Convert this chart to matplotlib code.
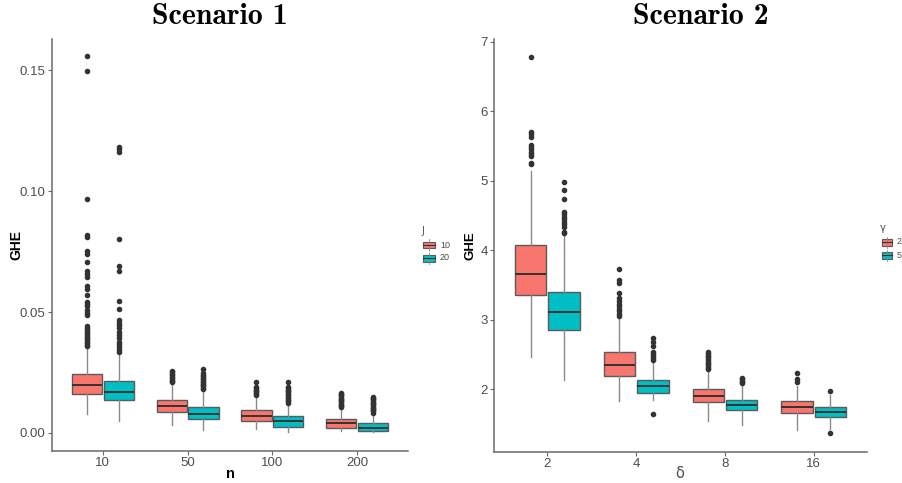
import matplotlib
matplotlib.use("Agg")
import matplotlib.pyplot as plt
from matplotlib.patches import Rectangle
from matplotlib.lines import Line2D

# ---- Scenario 1 : GHE by n, split by J ----
s1_cats = ['10', '50', '100', '200']
s1_levels = ['10', '20']

s1_q1 = {'10': [0.0162, 0.0086, 0.0047, 0.0022], '20': [0.0135, 0.0057, 0.0026, 0.0008]}
s1_med = {'10': [0.0198, 0.0111, 0.0069, 0.0039], '20': [0.0169, 0.0080, 0.0047, 0.0022]}
s1_q3 = {'10': [0.0242, 0.0138, 0.0093, 0.0058], '20': [0.0214, 0.0106, 0.0069, 0.0039]}
s1_lo = {'10': [0.0080, 0.0032, 0.0018, 0.0006], '20': [0.0048, 0.0011, 0.0004, 0.0003]}
s1_hi = {'10': [0.0357, 0.0205, 0.0149, 0.0101], '20': [0.0370, 0.0177, 0.0122, 0.0080]}
s1_fliers = {
    '10': [
        [0.156, 0.1496, 0.0969, 0.0817, 0.0809, 0.0751, 0.0740, 0.0705, 0.0668, 0.0658,
         0.0647, 0.0606, 0.0596, 0.0571, 0.0543, 0.0534, 0.0525, 0.0509, 0.0498, 0.0488,
         0.0442, 0.0433, 0.0426, 0.0419, 0.0412, 0.0405, 0.0398, 0.0391, 0.0384, 0.0377,
         0.0370, 0.0364, 0.0360],
        [0.0256, 0.0250, 0.0244, 0.0238, 0.0232, 0.0226, 0.0220, 0.0214, 0.0209],
        [0.0210, 0.0191, 0.0185, 0.0179, 0.0173, 0.0167, 0.0161, 0.0155],
        [0.0166, 0.0161, 0.0156, 0.0151, 0.0146, 0.0141, 0.0136, 0.0131, 0.0126, 0.0121,
         0.0116, 0.0111, 0.0106],
    ],
    '20': [
        [0.1183, 0.1175, 0.1164, 0.0802, 0.0689, 0.0668, 0.0546, 0.0513, 0.0467, 0.0456,
         0.0447, 0.0433, 0.0419, 0.0405, 0.0391, 0.0377, 0.0366, 0.0357, 0.0343, 0.0336],
        [0.0263, 0.0246, 0.0240, 0.0234, 0.0228, 0.0222, 0.0216, 0.0210, 0.0204, 0.0198,
         0.0192, 0.0186, 0.0180],
        [0.0210, 0.0191, 0.0185, 0.0179, 0.0173, 0.0167, 0.0161, 0.0155, 0.0149, 0.0143,
         0.0137, 0.0131, 0.0125],
        [0.0149, 0.0144, 0.0139, 0.0134, 0.0129, 0.0124, 0.0119, 0.0114, 0.0109, 0.0104,
         0.0099, 0.0094, 0.0089, 0.0084],
    ],
}

# ---- Scenario 2 : GHE by delta, split by gamma ----
s2_cats = ['2', '4', '8', '16']
s2_levels = ['2', '5']

s2_q1 = {'2': [3.352, 2.182, 1.808, 1.650], '5': [2.844, 1.942, 1.693, 1.597]}
s2_med = {'2': [3.663, 2.340, 1.904, 1.736], '5': [3.107, 2.043, 1.765, 1.669]}
s2_q3 = {'2': [4.071, 2.527, 2.000, 1.823], '5': [3.395, 2.134, 1.847, 1.741]}
s2_lo = {'2': [2.460, 1.832, 1.535, 1.415], '5': [2.134, 1.847, 1.477, 1.425]}
s2_hi = {'2': [5.140, 3.021, 2.278, 2.048], '5': [4.220, 2.398, 2.086, 1.918]}
s2_fliers = {
    '2': [
        [6.784, 5.706, 5.672, 5.634, 5.514, 5.490, 5.452, 5.418, 5.384, 5.356, 5.260, 5.236],
        [3.731, 3.572, 3.534, 3.381, 3.309, 3.261, 3.227, 3.189, 3.151, 3.117, 3.079, 3.045],
        [2.527, 2.505, 2.480, 2.455, 2.430, 2.405, 2.380, 2.355, 2.330, 2.305, 2.290],
        [2.230, 2.144, 2.096],
    ],
    '5': [
        [4.987, 4.867, 4.733, 4.555, 4.522, 4.483, 4.445, 4.411, 4.378, 4.339, 4.268, 4.244],
        [2.733, 2.671, 2.614, 2.540, 2.510, 2.480, 2.450, 2.420, 1.640],
        [2.158, 2.140, 2.120, 2.100, 2.086],
        [1.966, 1.367],
    ],
}

fills = ['#F8766D', '#00BFC4']
grey_text = '#4D4D4D'
tick_font = 'Liberation Sans'
W, H = 902, 483


def box_stats(q1, med, q3, lo, hi, fl):
    return [dict(q1=a, med=b, q3=c, whislo=d, whishi=e, fliers=f)
            for a, b, c, d, e, f in zip(q1, med, q3, lo, hi, fl)]


def draw_panel(ax, cats, levels, q1, med, q3, lo, hi, fliers):
    offsets = [-0.1875, 0.1875]
    for k, lev in enumerate(levels):
        stats = box_stats(q1[lev], med[lev], q3[lev], lo[lev], hi[lev], fliers[lev])
        pos = [i + 1 + offsets[k] for i in range(len(cats))]
        ax.bxp(stats, positions=pos, widths=0.355, patch_artist=True,
               showcaps=False,
               boxprops=dict(facecolor=fills[k], edgecolor='#5a5a5a', linewidth=1.0),
               medianprops=dict(color='#333333', linewidth=1.4),
               whiskerprops=dict(color='#8a8a8a', linewidth=1.0),
               flierprops=dict(marker='o', markersize=3.0, markerfacecolor='#333333',
                               markeredgecolor='#333333', linestyle='none'))
    ax.set_xlim(0.4, 4.6)
    ax.set_xticks(range(1, len(cats) + 1))
    ax.set_xticklabels(cats)
    for s in ['top', 'right']:
        ax.spines[s].set_visible(False)
    for s in ['left', 'bottom']:
        ax.spines[s].set_color('#6a6a6a')
        ax.spines[s].set_linewidth(1.1)
    ax.tick_params(colors='#6a6a6a', labelcolor=grey_text, length=3, width=0.8,
                   labelsize=9.5, pad=1.5)
    for lab in ax.get_xticklabels() + ax.get_yticklabels():
        lab.set_family(tick_font)


def add_legend(fig, title, labels, x0, x1, centers, title_xy):
    # manual ggplot-style legend keys, positions in figure pixels
    fig.text(title_xy[0] / W, 1 - title_xy[1] / H, title, fontsize=7, color=grey_text,
             ha='left', va='center')
    hh = 7
    for k, lab in enumerate(labels):
        yc = centers[k]
        xm = (x0 + x1) / 2
        fig.add_artist(Line2D([xm / W, xm / W], [1 - (yc - hh / 2 - 2) / H, 1 - (yc + hh / 2 + 2) / H],
                              transform=fig.transFigure, color='#8a8a8a', lw=0.6))
        fig.add_artist(Rectangle((x0 / W, 1 - (yc + hh / 2) / H), (x1 - x0) / W, hh / H,
                                 transform=fig.transFigure, facecolor=fills[k],
                                 edgecolor='#5a5a5a', lw=0.8))
        fig.add_artist(Line2D([x0 / W, x1 / W], [1 - yc / H, 1 - yc / H],
                              transform=fig.transFigure, color='#333333', lw=0.8))
        fig.text((x1 + 5) / W, 1 - yc / H, lab, fontsize=6.5, color=grey_text,
                 family=tick_font, ha='left', va='center')


fig = plt.figure(figsize=(9.02, 4.83), dpi=100)
ax1 = fig.add_axes([0.0576, 0.0663, 0.3947, 0.853])
ax2 = fig.add_axes([0.5477, 0.0642, 0.4135, 0.855])

draw_panel(ax1, s1_cats, s1_levels, s1_q1, s1_med, s1_q3, s1_lo, s1_hi, s1_fliers)
ax1.set_ylim(-0.0075, 0.163)
ax1.set_yticks([0.0, 0.05, 0.10, 0.15])
ax1.set_yticklabels(['0.00', '0.05', '0.10', '0.15'])
for lab in ax1.get_yticklabels():
    lab.set_family(tick_font)
ax1.set_ylabel('GHE', fontsize=10, fontweight='bold', family=tick_font, va='center')
ax1.set_xlabel('n', fontsize=10.5, fontweight='bold', family=tick_font, va='center')
ax1.yaxis.set_label_coords(-0.101, 0.5)
ax1.xaxis.set_label_coords(0.5, -0.056)

draw_panel(ax2, s2_cats, s2_levels, s2_q1, s2_med, s2_q3, s2_lo, s2_hi, s2_fliers)
ax2.set_ylim(1.094, 7.04)
ax2.set_yticks([2, 3, 4, 5, 6, 7])
for lab in ax2.get_yticklabels():
    lab.set_family(tick_font)
ax2.set_ylabel('GHE', fontsize=9.5, fontweight='bold', family=tick_font, va='center')
ax2.set_xlabel('δ', fontsize=10.5, color=grey_text, family='DejaVu Sans', va='center')
ax2.yaxis.set_label_coords(-0.064, 0.5)
ax2.xaxis.set_label_coords(0.4987, -0.053)

fig.text(220 / W, 1 - 17 / H, 'Scenario 1', family='cmb10', fontsize=21.5,
         ha='center', va='center')
fig.text(701 / W, 1 - 17 / H, 'Scenario 2', family='cmb10', fontsize=21.5,
         ha='center', va='center')

add_legend(fig, 'J', s1_levels, 423, 435, [245, 258], (421, 231))
add_legend(fig, 'γ', s2_levels, 882, 892, [242, 255], (880, 228))

fig.savefig('out.png', dpi=100)
